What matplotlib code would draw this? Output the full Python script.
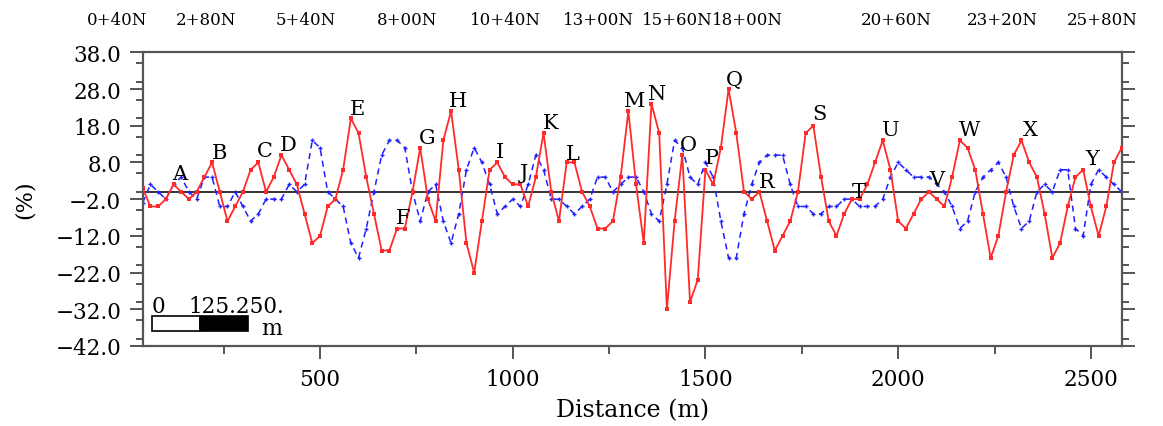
import numpy as np
import matplotlib
matplotlib.use("Agg")
import matplotlib.pyplot as plt
from matplotlib.patches import Rectangle
from matplotlib.ticker import MultipleLocator, FixedLocator, FuncFormatter

# ---------------- data ----------------
distance = np.arange(40, 2581, 20)

red_series = [
    1, -4, -4, -2, 2, 0, -2, 0, 4, 8,
    0, -8, -4, 0, 6, 8, 0, 4, 10, 6,
    2, -6, -14, -12, -4, -2, 6, 20, 16, 4,
    -6, -16, -16, -10, -10, 0, 12, -2, -8, 14,
    22, 6, -14, -22, -8, 6, 8, 4, 2, 2,
    -4, 4, 16, 0, -8, 8, 8, 0, -4, -10,
    -10, -8, 4, 22, 2, -14, 24, 16, -32, -8,
    10, -30, -24, 6, 2, 12, 28, 16, 0, -2,
    0, -8, -16, -12, -8, 0, 16, 18, 4, -8,
    -12, -6, -2, -2, 2, 8, 14, 6, -8, -10,
    -6, -2, 0, -2, -4, 4, 14, 12, 6, -6,
    -18, -12, 0, 10, 14, 8, 4, -6, -18, -14,
    -4, 4, 6, -4, -12, -4, 8, 12,
]

blue_series = [
    -3, 2, 0, -2, 2, 4, 0, -2, 4, 4,
    -4, -4, 0, -4, -8, -6, -2, -2, -2, 2,
    0, 2, 14, 12, 0, -2, -4, -14, -18, -10,
    0, 10, 14, 14, 12, 0, -8, 0, 2, -8,
    -14, -6, 6, 12, 8, 2, -6, -4, -2, -4,
    2, 10, 6, -2, -2, -4, -6, -4, -2, 4,
    4, 0, 2, 4, 4, 0, -6, -8, 2, 14,
    12, 4, 2, 8, 4, -8, -18, -18, -6, 2,
    8, 10, 10, 10, 2, -4, -4, -6, -6, -4,
    -4, -2, -2, -4, -4, -4, -2, 4, 8, 6,
    4, 4, 4, 2, 0, -4, -10, -8, 0, 4,
    6, 8, 4, -4, -10, -8, 0, 2, 0, 6,
    6, -10, -12, 2, 6, 4, 2, 0,
]

anomaly_letters = list("ABCDEFGHIJKLMNOPQRSTUVWXY")
letter_x = [137, 238, 357, 418, 597, 716, 778, 859, 967, 1030,
            1098, 1155, 1315, 1375, 1457, 1516, 1575, 1659, 1795, 1899,
            1980, 2101, 2186, 2344, 2504]
letter_y = [4.9, 10.8, 11.2, 12.8, 22.6, -6.9, 14.9, 24.8, 11.1, 5.3,
            19.0, 10.3, 24.8, 26.7, 12.8, 9.4, 30.7, 2.8, 21.2, 0.1,
            16.9, 3.3, 16.9, 16.9, 9.2]

station_labels = ["0+40N", "2+80N", "5+40N", "8+00N", "10+40N", "13+00N",
                  "15+60N", "18+00N", "20+60N", "23+20N", "25+80N"]
station_label_x = [-27, 204, 464, 726, 980, 1223, 1428, 1610, 1994, 2269, 2530]

y_ticks = [-42, -32, -22, -12, -2, 8, 18, 28, 38]
x_ticks = [500, 1000, 1500, 2000, 2500]

scale_bar_start = 63
scale_bar_step = 125

# ---------------- figure ----------------
plt.rcParams['font.family'] = ['DejaVu Serif']
fig = plt.figure(figsize=(11.63, 4.27), dpi=100)
ax = fig.add_axes([0.1227, 0.1874, 0.8418, 0.6878])

ax.axhline(0, color='#333333', lw=1.4, zorder=1)
ax.plot(distance, blue_series, color='#1f1fff', lw=1.1, ls=(0, (4, 3)),
        marker='+', ms=3.5, mew=1.0, zorder=2)
ax.plot(distance, red_series, color='#ff2a2a', lw=1.3, ls='-',
        marker='s', ms=2.8, mew=0, zorder=3)

for lab, lx, ly in zip(anomaly_letters, letter_x, letter_y):
    ax.text(lx, ly, lab, ha='center', va='center', fontsize=15, color='black', zorder=4)

ax.set_xlim(40, 2580)
ax.set_ylim(-42, 38)
ax.yaxis.set_major_locator(FixedLocator(y_ticks))
ax.yaxis.set_minor_locator(MultipleLocator(5))
ax.xaxis.set_major_locator(FixedLocator(x_ticks))
ax.xaxis.set_minor_locator(MultipleLocator(250))
ax.yaxis.set_major_formatter(FuncFormatter(lambda v, p: ("%.1f" % v).replace('-', '\u2212')))

for s in ax.spines.values():
    s.set_color('#555555')
    s.set_linewidth(1.6)

ax.tick_params(axis='y', which='major', direction='out', length=9.5, width=1.4,
               color='#555555', labelsize=15.5, pad=6, left=True, right=True)
ax.tick_params(axis='y', which='minor', direction='out', length=5, width=1.4,
               color='#555555', left=True, right=True)
ax.tick_params(axis='x', which='major', direction='out', length=9, width=1.4,
               color='#555555', labelsize=15.5, pad=7, top=False)
ax.tick_params(axis='x', which='minor', direction='out', length=6, width=1.4,
               color='#555555', top=False)

ax.set_xlabel('Distance (m)', fontsize=17, labelpad=6)
fig.text(25 / 1163, 1 - 200 / 427, '(%)', rotation=90, ha='center', va='center', fontsize=16)

for lab, lx in zip(station_labels, station_label_x):
    ax.text(lx, 1.0 + 33 / 294, lab, transform=ax.get_xaxis_transform(), ha='center',
            va='center', fontsize=12, clip_on=False)

# scale bar
ax.add_patch(Rectangle((scale_bar_start, -37.8), scale_bar_step, 3.9,
                       facecolor='white', edgecolor='black', lw=1.2, zorder=5))
ax.add_patch(Rectangle((scale_bar_start + scale_bar_step, -37.8), scale_bar_step, 3.9,
                       facecolor='black', edgecolor='black', lw=1.2, zorder=5))
ax.text(scale_bar_start, -32.7, '0', ha='left', va='baseline', fontsize=15.5, zorder=5)
ax.text(scale_bar_start + scale_bar_step - 30, -32.7, '125.250.', ha='left', va='baseline',
        fontsize=15.5, zorder=5)
ax.text(scale_bar_start + 2 * scale_bar_step + 62, -38.7, 'm', ha='center', va='baseline',
        fontsize=16, zorder=5)

fig.savefig('out.png', dpi=100)
